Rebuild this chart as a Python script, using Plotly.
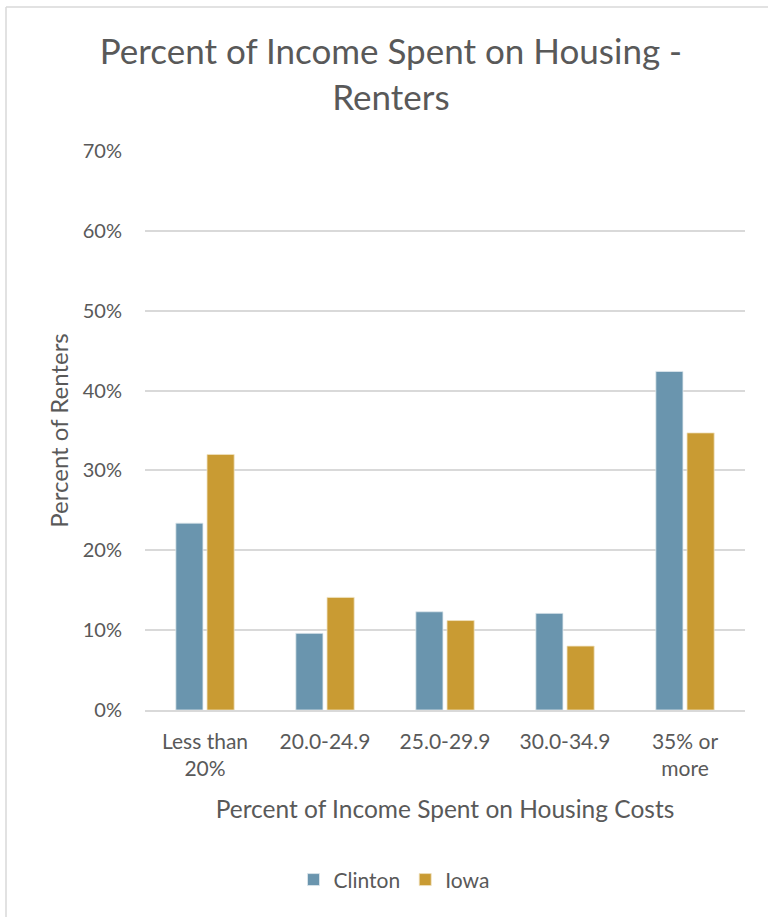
import plotly.graph_objects as go

categories = ["Less than<br>20%", "20.0-24.9", "25.0-29.9", "30.0-34.9", "35% or<br>more"]
clinton = [0.234, 0.096, 0.123, 0.121, 0.424]
iowa = [0.320, 0.141, 0.112, 0.080, 0.347]
y_ticks = [0, 0.1, 0.2, 0.3, 0.4, 0.5, 0.6, 0.7]

FONT = "Lato"
GREY = "#595959"

fig = go.Figure()
fig.add_trace(go.Bar(name="Clinton", x=categories, y=clinton,
                     marker=dict(color="#6A95AE", line=dict(color="#dfe8ee", width=0.8))))
fig.add_trace(go.Bar(name="Iowa", x=categories, y=iowa,
                     marker=dict(color="#C99B33", line=dict(color="#f0e2c0", width=0.8))))

fig.update_layout(
    width=768, height=917,
    margin=dict(l=145, r=23, t=151, b=207),
    paper_bgcolor="white", plot_bgcolor="white",
    barmode="group", bargap=0.48, bargroupgap=0.13,
    font=dict(family=FONT, color=GREY),
    title=dict(text="Percent of Income Spent on Housing -<br>Renters",
               x=0.509, xanchor="center", y=0.930, yanchor="top",
               font=dict(size=35, family=FONT, color=GREY)),
    showlegend=True,
    legend=dict(orientation="h", x=0.415, xanchor="center", y=-0.304, yanchor="middle",
                font=dict(size=21, family=FONT, color=GREY),
                traceorder="normal"),
)
fig.update_yaxes(range=[0, 0.7], tickvals=y_ticks, tickformat=".0%",
                 showgrid=True, gridcolor="#d9d9d9", gridwidth=1.5,
                 zeroline=False, showline=False,
                 ticks="", ticklabelstandoff=22,
                 tickfont=dict(size=20, family=FONT, color=GREY),
                 title=dict(text="Percent of Renters", standoff=7,
                            font=dict(size=24, family=FONT, color=GREY)))
fig.update_xaxes(showline=True, linecolor="#d9d9d9", linewidth=1.5,
                 ticks="", ticklabelstandoff=12,
                 tickfont=dict(size=21, family=FONT, color=GREY),
                 title=dict(text="Percent of Income Spent on Housing Costs", standoff=22,
                            font=dict(size=24.5, family=FONT, color=GREY)))

# Outer chart border (top and left edges visible)
fig.add_shape(type="line", xref="paper", yref="paper",
              x0=(6 - 145) / 600, x1=1.1, y0=(710 - 7) / 559, y1=(710 - 7) / 559,
              line=dict(color="#d9d9d9", width=1.5))
fig.add_shape(type="line", xref="paper", yref="paper",
              x0=(6 - 145) / 600, x1=(6 - 145) / 600, y0=(710 - 7) / 559, y1=-0.5,
              line=dict(color="#d9d9d9", width=1.5))

fig.write_html("out.html", config={"displayModeBar": False},
               post_script="document.body.style.margin='0';document.body.style.overflow='hidden';")
